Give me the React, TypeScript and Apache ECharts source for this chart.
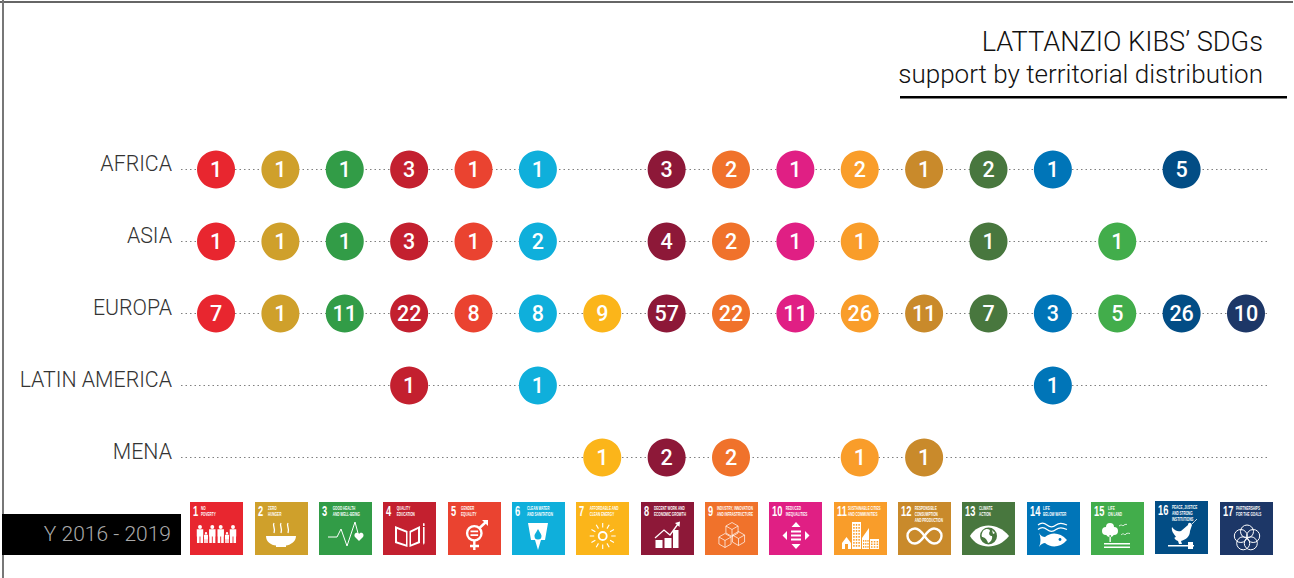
import React, { useEffect, useRef } from "react";
import * as echarts from "echarts";

const regions = ["AFRICA", "ASIA", "EUROPA", "LATIN AMERICA", "MENA"];
const sdgNumbers = [1, 2, 3, 4, 5, 6, 7, 8, 9, 10, 11, 12, 13, 14, 15, 16, 17];
const africa = [1, 1, 1, 3, 1, 1, null, 3, 2, 1, 2, 1, 2, 1, null, 5, null];
const asia = [1, 1, 1, 3, 1, 2, null, 4, 2, 1, 1, null, 1, null, 1, null, null];
const europa = [7, 1, 11, 22, 8, 8, 9, 57, 22, 11, 26, 11, 7, 3, 5, 26, 10];
const latinAmerica = [null, null, null, 1, null, 1, null, null, null, null, null, null, null, 1, null, null, null];
const mena = [null, null, null, null, null, null, 1, 2, 2, null, 1, 1, null, null, null, null, null];
const regionValues = [africa, asia, europa, latinAmerica, mena];

const sdgColors = ["#E8262F", "#CFA02B", "#329C47", "#C3202F", "#EA4330", "#0FAFDB", "#FBB51A", "#8D1838", "#F0722B", "#E01F84", "#F99D2A", "#C98A2B", "#48773E", "#0075B8", "#42AD4B", "#024D85", "#1D3767"];
const sdgTitles = [
  "NO\nPOVERTY", "ZERO\nHUNGER", "GOOD HEALTH\nAND WELL-BEING", "QUALITY\nEDUCATION", "GENDER\nEQUALITY",
  "CLEAN WATER\nAND SANITATION", "AFFORDABLE AND\nCLEAN ENERGY", "DECENT WORK AND\nECONOMIC GROWTH",
  "INDUSTRY, INNOVATION\nAND INFRASTRUCTURE", "REDUCED\nINEQUALITIES", "SUSTAINABLE CITIES\nAND COMMUNITIES",
  "RESPONSIBLE\nCONSUMPTION\nAND PRODUCTION", "CLIMATE\nACTION", "LIFE\nBELOW WATER", "LIFE\nON LAND",
  "PEACE, JUSTICE\nAND STRONG\nINSTITUTIONS", "PARTNERSHIPS\nFOR THE GOALS",
];
const tileX = [190, 255, 319, 383, 448, 512, 576, 641, 705, 769, 834, 898, 962, 1027, 1091, 1155, 1220];
const tileY = [502, 502, 502, 502, 502, 502, 502, 502, 502, 502, 502, 502, 502, 502, 502, 501, 502];
const titleOffset = [11, 13, 13.7, 13.7, 13, 15, 13.7, 13, 12, 16.7, 14, 16.7, 17, 16, 17, 17, 16];

const circ = (cx: number, cy: number, r: number) =>
  `M${cx - r} ${cy}a${r} ${r} 0 1 0 ${2 * r} 0a${r} ${r} 0 1 0 ${-2 * r} 0Z`;
const box = (x: number, y: number, w: number, h: number) => `M${x} ${y}h${w}v${h}h${-w}Z`;
const person = (cx: number, top: number, h: number) => {
  const r = h * 0.11;
  const w = h * 0.36;
  const by = top + 2 * r + 0.4;
  return (
    circ(cx, top + r, r) +
    box(cx - w / 2, by, w, h * 0.4) +
    box(cx - w / 2 + 0.2, by + h * 0.4, w * 0.4, h - (by - top) - h * 0.4) +
    box(cx + w / 2 - 0.2 - w * 0.4, by + h * 0.4, w * 0.4, h - (by - top) - h * 0.4)
  );
};
const cube = (cx: number, cy: number, s: number) => {
  const dx = s * 0.87;
  const dy = s * 0.5;
  return `M${cx} ${cy - s}L${cx + dx} ${cy - dy}V${cy + dy}L${cx} ${cy + s}L${cx - dx} ${cy + dy}V${cy - dy}ZM${cx - dx} ${cy - dy}L${cx} ${cy}L${cx + dx} ${cy - dy}M${cx} ${cy}V${cy + s}`;
};
const rays = (cx: number, cy: number, r1: number, r2: number, n: number) => {
  let d = "";
  for (let i = 0; i < n; i++) {
    const a = (i / n) * Math.PI * 2;
    d += `M${cx + r1 * Math.cos(a)} ${cy + r1 * Math.sin(a)}L${cx + r2 * Math.cos(a)} ${cy + r2 * Math.sin(a)}`;
  }
  return d;
};
const windows = (x: number, y: number, cols: number, rows: number, sx: number, sy: number) => {
  let d = "";
  for (let r = 0; r < rows; r++) for (let c = 0; c < cols; c++) d += box(x + c * sx, y + r * sy, sx * 0.55, sy * 0.55);
  return d;
};

type Layer = { d: string; kind: "fill" | "stroke" | "cut"; w?: number };
const sdgIcons: Layer[][] = [
  [{ d: person(10, 23, 18) + person(16, 30, 11) + person(22.3, 23, 18) + person(30.7, 23, 18) + person(37, 30, 11) + person(43, 23, 18), kind: "fill" }],
  [
    { d: "M11 34H41C41 40 35 43 31 43.5V45H21V43.5C16 43 11 40 11 34Z", kind: "fill" },
    { d: "M19 21C17 24 21 26 19 31M26 21C24 24 28 26 26 31M33 21C31 24 35 26 33 31", kind: "stroke", w: 1.3 },
  ],
  [
    { d: "M9 35H18L22 27L28 44L36 20L40 35", kind: "stroke", w: 1 },
    { d: "M40 39L36 35C34 32 38 29 40 32C42 29 46 32 44 35Z", kind: "fill" },
  ],
  [
    { d: "M12 24L24.5 29V45L12 41ZM26.5 29L37 24V41L26.5 45Z", kind: "fill" },
    { d: "M14 27L23 30.5V42.5L14 39.5ZM28 30.5L35 27V39.5L28 42.5Z", kind: "cut" },
    { d: "M40 21.5a.9 .9 0 0 1 1.6 0V24H40ZM40 25H41.6V41L40.8 43L40 41Z", kind: "fill" },
  ],
  [
    { d: circ(26.3, 31.3, 7.2) + "M26.3 38.5V48M22 44H31M31.5 26L39 19", kind: "stroke", w: 2.4 },
    { d: "M34 18H40V24L38 22Z" + box(22.5, 28.5, 7.6, 1.8) + box(22.5, 32.3, 7.6, 1.8), kind: "fill" },
  ],
  [
    { d: "M16 21H36L33 38H29L26 48L23 38H19Z", kind: "fill" },
    { d: "M18 24H34L32 36H20Z", kind: "stroke", w: 0.5 },
    { d: "M26 27C28 31 29.5 32 29.5 34A3.5 3.5 0 0 1 22.5 34C22.5 32 24 31 26 27Z", kind: "cut" },
  ],
  [
    { d: circ(26.7, 34, 4), kind: "stroke", w: 1.8 },
    { d: rays(26.7, 34, 8.5, 13, 12), kind: "stroke", w: 1.1 },
  ],
  [
    { d: box(14.5, 38, 7, 8) + box(23.5, 36, 7, 10) + box(32, 28, 5.5, 18), kind: "fill" },
    { d: "M14 36L23 28L29 33L37 22", kind: "stroke", w: 1.3 },
    { d: "M34 21L39 19.5L38.5 25Z", kind: "fill" },
  ],
  [{ d: cube(27, 27.5, 7) + cube(20, 38.5, 7) + cube(33.5, 36.5, 7), kind: "stroke", w: 0.7 }],
  [
    { d: "M27 20L31.5 25H22.5ZM27 47L31.5 42H22.5ZM13.5 33.5L18 29V38ZM40.5 33.5L36 29V38Z" + box(22, 28.5, 10, 2) + box(22, 32.5, 10, 2) + box(22, 36.5, 10, 2), kind: "fill" },
  ],
  [
    { d: "M8 41L12.5 35L17 41V47H8Z" + box(18, 20, 9, 27) + "M28 47V36L35 26V47Z" + box(36, 37, 9, 10), kind: "fill" },
    { d: windows(19.2, 22, 3, 8, 2.6, 3) + windows(37, 39, 3, 3, 2.8, 2.6) + windows(29, 38, 3, 3, 2.2, 3) + box(11, 42, 3, 5), kind: "cut" },
  ],
  [{ d: "M26.5 34C23 29 20 26.5 17 26.5A7.5 7.5 0 0 0 17 41.5C20 41.5 23 39 26.5 34C30 29 33 26.5 36 26.5A7.5 7.5 0 0 1 36 41.5C33 41.5 30 39 26.5 34Z", kind: "stroke", w: 2.4 }],
  [
    { d: "M8 34C16 20 36 20 47 34C36 48 16 48 8 34Z", kind: "fill" },
    { d: circ(26.5, 34, 8.5), kind: "cut" },
    { d: "M21 29C24 26 28 27 28 29C26 32 28 34 30 34C31 37 28 41 26 41C25 37 22 35 20 35C19 33 20 31 21 29ZM30 28L33 31L31 32Z", kind: "fill" },
  ],
  [
    { d: "M11 23C14 20.5 17 20.5 20 23C23 25.5 26 25.5 29 23C32 20.5 35 20.5 40 23M11 27.5C14 25 17 25 20 27.5C23 30 26 30 29 27.5C32 25 35 25 40 27.5", kind: "stroke", w: 1.2 },
    { d: "M12 31C14 34 16 35 18 35C24 30 33 30 40 38C33 46 24 46 18 41C16 41 14 42 12 45C14 41 14 35 12 31Z", kind: "fill" },
    { d: circ(33, 37.5, 1.4), kind: "cut" },
  ],
  [
    { d: circ(19, 25, 4) + circ(15, 29, 4) + circ(23, 29, 4) + circ(19, 31, 4) + box(18.5, 33, 1.3, 7) + box(13, 41, 26, 1.6) + box(13, 44.5, 26, 1.6), kind: "fill" },
    { d: "M28 24C30 22.5 31 23 32 24C33 22.5 35 22 36 22.5M30 33C32 31 33 32 34 33C35 31 37 31 39 31.5", kind: "stroke", w: 0.8 },
  ],
  [
    { d: "M17 26C20 30 23 31 26 30L33 24C33 21 36 21 37 24L35 30C35 36 30 39 26 40L27 43H24L23 40C20 39 18 36 21 36C19 33 16 30 17 26Z", kind: "fill" },
    { d: box(13, 44, 26, 1.4) + box(33, 41, 5, 7), kind: "fill" },
    { d: "M37 23C39 21 40 20 42 18", kind: "stroke", w: 0.8 },
  ],
  [{ d: circ(27, 29.5, 6.5) + circ(33.2, 34, 6.5) + circ(30.8, 41.3, 6.5) + circ(23.2, 41.3, 6.5) + circ(20.8, 34, 6.5), kind: "stroke", w: 1 }],
];

sdgIcons.forEach((layers, i) =>
  layers.forEach((layer, j) => {
    echarts.graphic.registerShape(`sdg${i}_${j}`, echarts.graphic.extendPath(layer.d, {}));
  })
);

const FONT = "Liberation Sans";
const LIGHT = "Roboto";

function tileElements(i: number) {
  const color = sdgColors[i];
  const children: any[] = [
    { type: "rect", shape: { x: 0, y: 0, width: 53, height: 53 }, style: { fill: color } },
    {
      type: "text", x: 3, y: 2, scaleX: 0.62,
      style: { text: String(sdgNumbers[i]), fill: "#fff", font: `bold 15px "${FONT}"`, textVerticalAlign: "top" },
    },
    {
      type: "text", x: titleOffset[i], y: 3.6, scaleX: 0.62,
      style: { text: sdgTitles[i], fill: "#fff", font: `bold 5px "${FONT}"`, lineHeight: 5.9, textVerticalAlign: "top" },
    },
  ];
  sdgIcons[i].forEach((layer, j) => {
    children.push({
      type: `sdg${i}_${j}`,
      style:
        layer.kind === "stroke"
          ? { fill: "none", stroke: "#fff", lineWidth: layer.w ?? 1 }
          : { fill: layer.kind === "cut" ? color : "#fff" },
    });
  });
  return { type: "group", x: tileX[i], y: tileY[i], silent: true, children };
}

export default function App() {
  const ref = useRef<HTMLDivElement>(null);
  useEffect(() => {
    const chart = echarts.init(ref.current!, undefined, { renderer: "svg" });
    chart.setOption({
      animation: false,
      backgroundColor: "#fff",
      grid: { left: 181, right: 24, top: 169.5, bottom: 120.5, containLabel: false },
      xAxis: {
        type: "value",
        min: 0.456,
        max: 17.373,
        show: false,
        splitLine: { show: false },
      },
      yAxis: {
        type: "category",
        inverse: true,
        boundaryGap: false,
        data: regions,
        axisLine: { show: false },
        axisTick: { show: false },
        axisLabel: {
          interval: 0,
          margin: 9,
          color: "#333",
          fontFamily: LIGHT,
          fontWeight: 300,
          fontSize: 21.3,
          verticalAlign: "bottom",
          lineHeight: 12,
        },
        splitLine: { show: true, interval: 0, lineStyle: { color: "#808080", width: 1, type: [1.5, 3] } },
      },
      series: regions.map((region, r) => ({
        name: region,
        type: "scatter",
        clip: false,
        symbol: "circle",
        symbolSize: 38,
        data: regionValues[r]
          .map((v, i) => (v === null ? null : { value: [sdgNumbers[i], region, v], itemStyle: { color: sdgColors[i], opacity: 1 } }))
          .filter(Boolean),
        label: {
          show: true,
          position: "inside",
          formatter: (p: any) => String(p.value[2]),
          color: "#fff",
          fontFamily: LIGHT,
          fontSize: 21.5,
          fontWeight: 500,
        },
      })),
      graphic: {
        elements: [
          { type: "line", silent: true, shape: { x1: 0, y1: 2, x2: 1293, y2: 2 }, style: { stroke: "#666", lineWidth: 2 } },
          { type: "line", silent: true, shape: { x1: 3, y1: 0, x2: 3, y2: 578 }, style: { stroke: "#777", lineWidth: 2 } },
          { type: "rect", silent: true, shape: { x: 2, y: 514, width: 179, height: 41 }, style: { fill: "#000" } },
          { type: "text", silent: true, x: 171, y: 534, style: { text: "Y 2016 - 2019", fill: "#aaa", font: `300 21px "${LIGHT}"`, textAlign: "right", textVerticalAlign: "middle" } },
          { type: "text", silent: true, x: 1263, y: 42, style: { text: "LATTANZIO KIBS\u2019 SDGs", fill: "#111", font: `300 27.2px "${LIGHT}"`, textAlign: "right", textVerticalAlign: "middle" } },
          { type: "text", silent: true, x: 1263, y: 74, style: { text: "support by territorial distribution", fill: "#111", font: `300 26px "${LIGHT}"`, textAlign: "right", textVerticalAlign: "middle" } },
          { type: "rect", silent: true, shape: { x: 900, y: 96, width: 387, height: 2.5 }, style: { fill: "#000" } },
          ...sdgNumbers.map((_, i) => tileElements(i)),
        ],
      },
    });
    return () => chart.dispose();
  }, []);
  return <div ref={ref} style={{ position: "absolute", left: 0, top: 0, width: 1294, height: 578 }} />;
}
